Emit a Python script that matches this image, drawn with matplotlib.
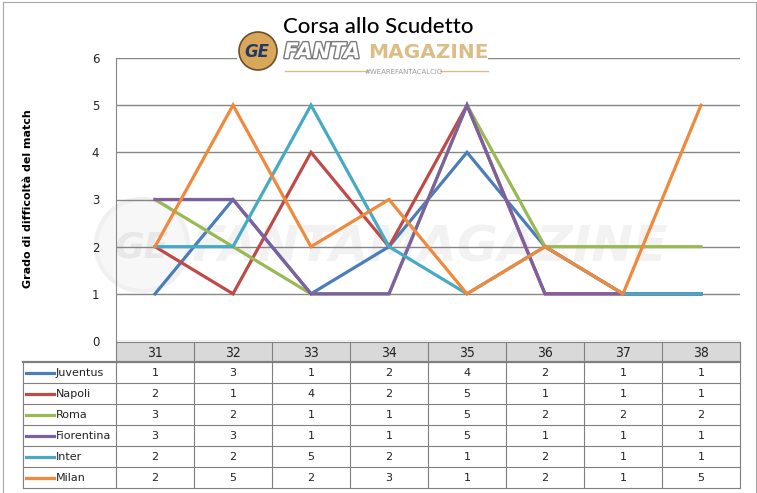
import numpy as np
import matplotlib
matplotlib.use('Agg')
import matplotlib.pyplot as plt
import matplotlib.patheffects as pe
from matplotlib.patches import Rectangle, Circle

# giornate e grado di difficolta' per squadra
giornate = ['31', '32', '33', '34', '35', '36', '37', '38']
squadre = ['Juventus', 'Napoli', 'Roma', 'Fiorentina', 'Inter', 'Milan']
juventus = [1, 3, 1, 2, 4, 2, 1, 1]
napoli = [2, 1, 4, 2, 5, 1, 1, 1]
roma = [3, 2, 1, 1, 5, 2, 2, 2]
fiorentina = [3, 3, 1, 1, 5, 1, 1, 1]
inter = [2, 2, 5, 2, 1, 2, 1, 1]
milan = [2, 5, 2, 3, 1, 2, 1, 5]
valori = [juventus, napoli, roma, fiorentina, inter, milan]
colori = ['#4a7ebb', '#be4b48', '#98b954', '#7d60a0', '#46aac5', '#f0893c']
yticks = [0, 1, 2, 3, 4, 5, 6]

W, H = 757, 493
fig = plt.figure(figsize=(W / 100, H / 100), dpi=100)

# sfondo / tabella in coordinate pixel
ov = fig.add_axes([0, 0, 1, 1])
ov.set_xlim(0, W)
ov.set_ylim(H, 0)
ov.axis('off')
ov.set_zorder(0)

# cornice del grafico
ov.plot([3, 3], [2, H], color='#a6a6a6', lw=0.8)
ov.plot([756, 756], [2, H], color='#a6a6a6', lw=0.8)
ov.plot([3, 756], [2, 2], color='#a6a6a6', lw=0.8)

# watermark
ov.add_patch(Circle((142, 245), 46, facecolor='#f7f7f7', edgecolor='#f0f0f0', lw=3))
ov.text(142, 247, 'GE', fontsize=26, fontweight='bold', style='italic', color='#e8e8e8',
        ha='center', va='center')
ov.text(192, 247, 'FANTAMAGAZINE', fontsize=36, fontweight='bold', style='italic', color='#f2f2f2',
        ha='left', va='center')

# area del grafico
left, right, top, bottom = 116, 740, 58, 341
ax = fig.add_axes([left / W, (H - bottom) / H, (right - left) / W, (bottom - top) / H])
ax.set_zorder(1)
ax.patch.set_alpha(0)
x = np.arange(len(giornate))
for serie, col in zip(valori, colori):
    ax.plot(x, serie, color=col, lw=2.3, solid_joinstyle='miter', zorder=3)
ax.set_xlim(-0.5, len(giornate) - 0.5)
ax.set_ylim(0, 6)
ax.set_yticks(yticks)
ax.set_yticklabels([str(v) for v in yticks], fontsize=8.5, color='#222222')
ax.tick_params(axis='y', length=0, pad=12)
ax.set_xticks([])
ax.grid(axis='y', color='#868686', lw=1)
ax.set_axisbelow(True)
for s in ['top', 'right', 'bottom']:
    ax.spines[s].set_visible(False)
ax.spines['left'].set_color('#868686')
fig.text(28 / W, 1 - 199 / H, 'Grado di difficoltà del match', rotation=90, fontsize=8,
         fontweight='bold', ha='center', va='center')

# tabella dati
colw = (right - left) / len(giornate)
row_top = 342
hdr_h = 20
row_h = 21
leg_left = 23
table_bottom = row_top + hdr_h + row_h * len(squadre)
ov.add_patch(Rectangle((left, row_top), right - left, hdr_h, facecolor='#d9d9d9', edgecolor='none'))
gc = '#7f7f7f'
# linee orizzontali
ov.plot([left, right], [row_top, row_top], color=gc, lw=0.8)
for i in range(len(squadre) + 1):
    yy = row_top + hdr_h + i * row_h
    ov.plot([leg_left, right], [yy, yy], color=gc, lw=0.8 if i else 1.6)
# linee verticali
ov.plot([leg_left, leg_left], [row_top + hdr_h, table_bottom], color=gc, lw=0.8)
for j in range(len(giornate) + 1):
    xx = left + j * colw
    ov.plot([xx, xx], [row_top, table_bottom], color=gc, lw=0.8)
for j, g in enumerate(giornate):
    ov.text(left + (j + 0.5) * colw, row_top + hdr_h / 2 + 1, g, ha='center', va='center',
            fontsize=10, fontstretch='condensed', color='#222222')
for i, (nome, serie, col) in enumerate(zip(squadre, valori, colori)):
    yc = row_top + hdr_h + (i + 0.5) * row_h
    ov.plot([26, 54], [yc, yc], color=col, lw=2.3)
    ov.text(56, yc + 0.5, nome, ha='left', va='center', fontsize=8, color='#222222')
    for j, v in enumerate(serie):
        ov.text(left + (j + 0.5) * colw, yc + 0.5, str(v), ha='center', va='center',
                fontsize=8, color='#222222')

# titolo e logo
top_ov = fig.add_axes([0, 0, 1, 1])
top_ov.set_xlim(0, W)
top_ov.set_ylim(H, 0)
top_ov.axis('off')
top_ov.set_zorder(2)
top_ov.patch.set_alpha(0)
top_ov.add_patch(Rectangle((237, 36), 251, 44, facecolor='white', edgecolor='none'))
top_ov.text(378, 27, 'Corsa allo Scudetto', ha='center', va='center', fontsize=16,
            family=['Lato', 'DejaVu Sans'], fontweight='medium', color='black')
top_ov.add_patch(Circle((258, 51), 19, facecolor='#d9a75a', edgecolor='#6b4f2a', lw=1.2))
top_ov.text(257, 52, 'GE', ha='center', va='center', fontsize=12, fontweight='bold',
            style='italic', color='#1f3a66')
top_ov.text(284, 52, 'FANTA', ha='left', va='center', fontsize=15.5, fontweight='bold',
            style='italic', color='white',
            path_effects=[pe.withStroke(linewidth=2, foreground='#7a7a7a')])
top_ov.text(368, 52, 'MAGAZINE', ha='left', va='center', fontsize=14.5, fontweight='bold',
            color='#dcbd86')
top_ov.plot([285, 368], [71, 71], color='#dcbd86', lw=1)
top_ov.plot([440, 488], [71, 71], color='#dcbd86', lw=1)
top_ov.text(404, 72, '#WEAREFANTACALCIO', ha='center', va='center', fontsize=5,
            color='#9a9a9a')

fig.savefig('out.png', dpi=100)
